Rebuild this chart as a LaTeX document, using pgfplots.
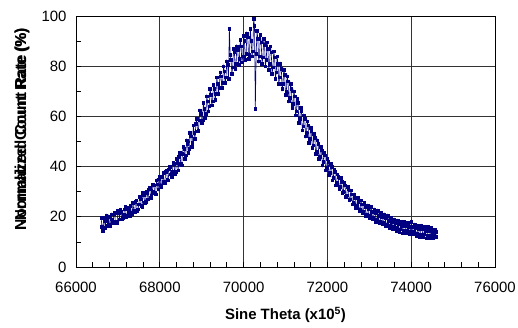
\documentclass[border=0pt]{standalone}
\usepackage{pgfplots}
\pgfplotsset{compat=1.18}
\usepackage{fontspec}
\setmainfont{Liberation Sans}
\usepackage{graphicx}
\definecolor{navy}{RGB}{0,0,128}
\pgfplotstableread{
x y
66600 19.5
66620 16.0
66640 14.5
66660 19.5
66680 18.5
66700 15.5
66720 20.5
66740 18.5
66760 16.5
66780 20.0
66800 17.0
66820 16.5
66840 21.0
66860 19.0
66880 17.5
66900 21.0
66920 21.5
66940 18.0
66960 18.0
66980 17.5
67000 22.5
67020 21.5
67040 19.0
67060 23.0
67080 22.0
67100 19.0
67120 19.5
67140 21.0
67160 23.0
67180 24.0
67200 20.0
67220 20.5
67240 23.5
67260 22.0
67280 20.5
67300 24.5
67320 21.5
67340 21.0
67360 25.5
67380 22.5
67400 22.0
67420 26.0
67440 26.5
67460 22.5
67480 23.0
67500 25.0
67520 28.0
67540 27.0
67560 24.5
67580 24.0
67600 29.5
67620 28.5
67640 25.5
67660 26.0
67680 30.0
67700 29.5
67720 27.0
67740 31.0
67760 31.5
67780 27.5
67800 28.5
67820 30.0
67840 33.0
67860 32.5
67880 29.5
67900 29.0
67920 34.5
67940 33.0
67960 31.0
67980 35.0
68000 36.0
68020 32.5
68040 32.0
68060 36.0
68080 37.5
68100 34.0
68120 33.5
68140 38.0
68160 38.5
68180 35.0
68200 34.5
68220 39.0
68240 40.0
68260 37.0
68280 36.0
68300 38.0
68320 41.5
68340 41.0
68360 37.0
68380 38.0
68400 43.0
68420 41.5
68440 38.5
68460 44.0
68480 45.5
68500 41.0
68520 40.5
68540 45.0
68560 48.0
68580 47.0
68600 43.0
68620 44.5
68640 50.5
68660 49.0
68680 45.5
68700 47.0
68720 53.5
68740 52.0
68760 48.0
68780 49.5
68800 56.5
68820 53.5
68840 51.0
68860 57.0
68880 59.0
68900 54.0
68920 54.5
68940 58.5
68960 62.5
68980 61.0
69000 57.5
69020 58.5
69040 65.5
69060 63.0
69080 59.5
69100 61.0
69120 68.0
69140 66.0
69160 62.0
69180 64.0
69200 71.0
69220 68.5
69240 64.5
69260 66.0
69280 72.5
69300 71.0
69320 66.5
69340 69.0
69360 75.5
69380 73.0
69400 69.0
69420 71.5
69440 77.5
69460 76.0
69480 71.5
69500 73.5
69520 80.0
69540 78.0
69560 73.5
69580 75.5
69600 82.0
69620 80.5
69640 75.0
69660 95.0
69680 84.5
69700 82.5
69720 77.0
69740 79.5
69760 87.0
69780 85.5
69800 79.0
69820 81.0
69840 88.0
69860 86.5
69880 80.5
69900 83.0
69920 90.5
69940 88.0
69960 81.5
69980 84.0
70000 92.0
70020 90.0
70040 82.5
70060 85.0
70080 93.0
70100 91.5
70120 83.0
70140 84.5
70160 95.0
70180 90.0
70200 84.0
70220 86.0
70240 99.0
70260 96.0
70280 63.0
70300 85.0
70320 94.0
70340 91.0
70360 82.0
70380 84.0
70400 92.5
70420 89.5
70440 81.0
70460 83.5
70480 91.0
70500 88.5
70520 80.0
70540 82.5
70560 89.5
70580 87.0
70600 78.5
70620 81.0
70640 88.0
70660 85.5
70680 77.0
70700 79.5
70720 86.0
70740 83.5
70760 75.0
70780 77.5
70800 84.0
70820 81.0
70840 73.0
70860 75.5
70880 81.0
70900 79.0
70920 71.0
70940 73.0
70960 78.5
70980 76.5
71000 68.5
71020 70.0
71040 76.0
71060 74.0
71080 66.0
71100 67.5
71120 73.0
71140 71.0
71160 63.5
71180 65.0
71200 70.0
71220 68.0
71240 60.5
71260 62.0
71280 67.0
71300 65.5
71320 57.5
71340 59.0
71360 63.5
71380 62.0
71400 54.5
71420 56.0
71440 60.5
71460 59.0
71480 52.0
71500 53.5
71520 58.0
71540 56.5
71560 49.5
71580 51.0
71600 55.5
71620 54.0
71640 47.5
71660 48.5
71680 53.0
71700 51.5
71720 45.0
71740 46.0
71760 50.5
71780 49.0
71800 43.0
71820 44.0
71840 48.0
71860 46.5
71880 40.5
71900 42.0
71920 45.5
71940 44.5
71960 38.5
71980 39.5
72000 43.0
72020 42.0
72040 36.5
72060 37.5
72080 41.0
72100 40.0
72120 34.5
72140 35.5
72160 39.0
72180 38.0
72200 32.5
72220 33.5
72240 37.0
72260 36.0
72280 31.0
72300 32.0
72320 35.5
72340 34.0
72360 29.5
72380 30.0
72400 33.5
72420 32.5
72440 28.0
72460 28.5
72480 32.0
72500 31.0
72520 26.5
72540 27.0
72560 30.5
72580 29.0
72600 25.0
72620 25.5
72640 29.0
72660 27.5
72680 23.5
72700 24.5
72720 27.5
72740 26.0
72760 22.5
72780 23.0
72800 26.5
72820 25.0
72840 21.5
72860 22.0
72880 25.5
72900 24.0
72920 20.5
72940 21.0
72960 24.5
72980 23.0
73000 19.5
73020 20.5
73040 24.0
73060 22.0
73080 19.0
73100 19.5
73120 23.0
73140 21.5
73160 18.0
73180 19.0
73200 22.5
73220 20.5
73240 17.5
73260 18.0
73280 21.5
73300 20.0
73320 17.0
73340 17.5
73360 21.0
73380 19.5
73400 16.5
73420 17.0
73440 20.5
73460 18.5
73480 15.5
73500 16.5
73520 19.5
73540 18.0
73560 15.0
73580 16.0
73600 19.0
73620 17.5
73640 14.5
73660 15.5
73680 18.5
73700 17.0
73720 14.0
73740 15.0
73760 18.0
73780 16.5
73800 13.5
73820 14.5
73840 18.0
73860 16.5
73880 13.5
73900 14.5
73920 17.5
73940 16.0
73960 13.0
73980 14.0
74000 18.0
74020 16.0
74040 13.0
74060 14.0
74080 17.0
74100 15.5
74120 12.5
74140 13.5
74160 16.5
74180 15.0
74200 12.0
74220 13.0
74240 16.5
74260 15.0
74280 12.0
74300 13.0
74320 16.0
74340 14.5
74360 11.5
74380 12.5
74400 16.0
74420 14.5
74440 11.5
74460 12.5
74480 15.5
74500 14.0
74520 11.5
74540 12.5
74560 15.0
74580 14.0
74600 12.0
}\datatable
\begin{document}
\begin{tikzpicture}
\begin{axis}[
  at={(0,0)}, anchor=south west,
  scale only axis, width=419bp, height=251bp,
  xmin=66000, xmax=76000, ymin=0, ymax=100,
  xtick={66000,68000,...,76000}, ytick={0,20,...,100},
  minor x tick num=4, minor y tick num=1,
  grid=major, major grid style={black!80, line width=0.7bp},
  axis line style={black, line width=0.8bp},
  tick align=inside, tick pos=left,
  major tick length=5bp, minor tick length=5bp,
  tick style={black, line width=0.7bp},
  scaled x ticks=false,
  /pgf/number format/assume math mode=true,
  /pgf/number format/set thousands separator={},
  tick label style={font=\fontsize{15}{18}\selectfont},
  xticklabel style={yshift=-12bp},
  yticklabel style={xshift=-6bp},
  xlabel={Sine Theta (x10$^{\mathbf{5}}$)},
  xlabel style={font=\bfseries\fontsize{15}{18}\selectfont, at={(axis description cs:0.5,0)}, anchor=center, yshift=-48bp},
]
\addplot[navy, line width=0.6bp, mark=square*, mark size=1.3bp, mark options={navy}] table[x=x,y=y] {\datatable};
\end{axis}
\node[rotate=90, font=\bfseries\fontsize{15}{18}\selectfont, inner sep=0pt] at (-54bp,138bp)
  {\makebox[0pt][l]{\resizebox{202bp}{11.5bp}{I-Normalized Count Rate (\%)}}\resizebox{202bp}{11.5bp}{Normalized Count Rate (\%)}};
\pgfresetboundingbox
\path[use as bounding box] (-76bp,-61bp) rectangle (442bp,267bp);
\end{tikzpicture}
\end{document}
